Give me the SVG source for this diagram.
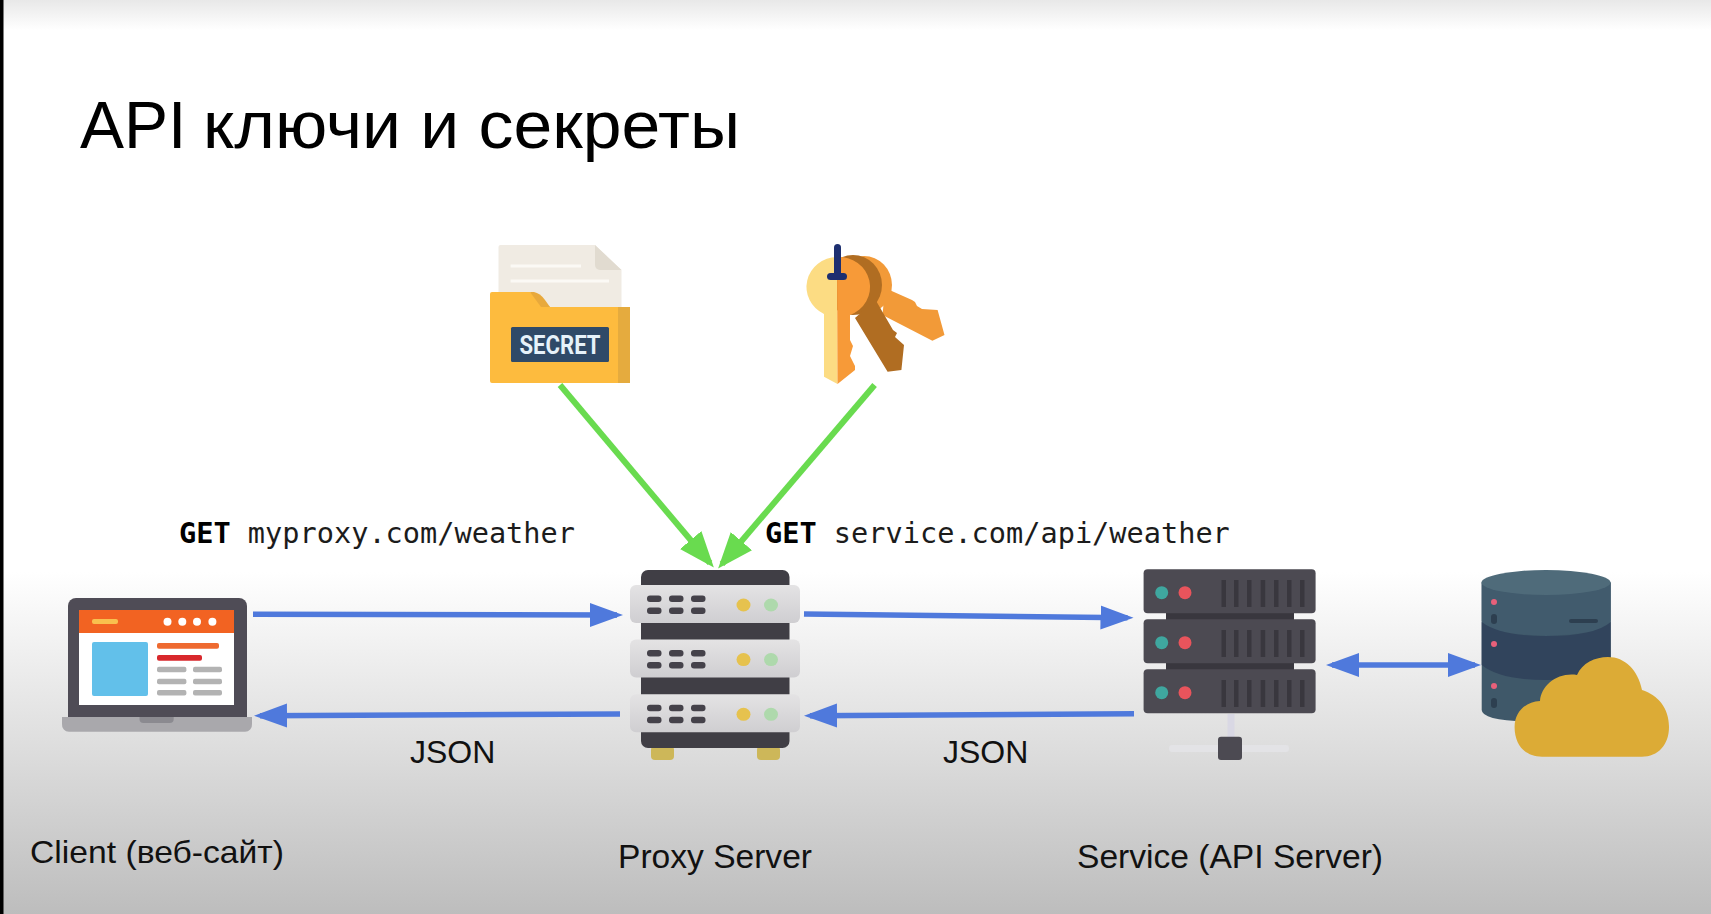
<svg xmlns="http://www.w3.org/2000/svg" xmlns:xlink="http://www.w3.org/1999/xlink" width="1711" height="914" viewBox="0 0 1711 914">
<style>
.sans{font-family:"Liberation Sans",Arial,sans-serif;fill:#111}
.mono{font-family:"DejaVu Sans Mono","Liberation Mono",monospace;font-size:28.6px;fill:#1c1c1c}
.mono .b{font-weight:700;fill:#000}
.lbl{font-size:32px}
.blue{stroke:#4f79dc;stroke-width:5.5;fill:none}
.green{stroke:#69db4f;stroke-width:6;fill:none}
</style>
<defs>
<linearGradient id="bgTop" x1="0" y1="0" x2="0" y2="1"><stop offset="0" stop-color="#e8e8e8"/><stop offset="1" stop-color="#fff"/></linearGradient>
<linearGradient id="bgBottom" x1="0" y1="0" x2="0" y2="1"><stop offset="0" stop-color="#fff"/><stop offset="1" stop-color="#bdbdbd"/></linearGradient>
<linearGradient id="unitFill" x1="0" y1="0" x2="0" y2="1"><stop offset="0" stop-color="#e4e3e4"/><stop offset="1" stop-color="#cfced1"/></linearGradient>
<marker id="headBlue" markerUnits="userSpaceOnUse" markerWidth="34" markerHeight="26" refX="27" refY="13" orient="auto"><path d="M0,1L33,13L0,25z" fill="#4f79dc"/></marker>
<marker id="headBlueStart" markerUnits="userSpaceOnUse" markerWidth="34" markerHeight="26" refX="6" refY="13" orient="auto"><path d="M33,1L0,13L33,25z" fill="#4f79dc"/></marker>
<marker id="headGreen" markerUnits="userSpaceOnUse" markerWidth="37" markerHeight="30" refX="30" refY="15" orient="auto"><path d="M0,1L36,15L0,29z" fill="#69db4f"/></marker>
<g id="proxyUnit">
<rect x="630" y="585" width="170" height="38" rx="6" fill="url(#unitFill)"/>
<g fill="#45424a"><rect x="647" y="595.500" width="14.500" height="6.500" rx="3"/><rect x="669" y="595.500" width="14.500" height="6.500" rx="3"/><rect x="691" y="595.500" width="14.500" height="6.500" rx="3"/><rect x="647" y="607.500" width="14.500" height="6.500" rx="3"/><rect x="669" y="607.500" width="14.500" height="6.500" rx="3"/><rect x="691" y="607.500" width="14.500" height="6.500" rx="3"/></g>
<ellipse cx="743.500" cy="605" rx="7" ry="6.500" fill="#e6c24e"/>
<ellipse cx="771" cy="605" rx="7" ry="6.500" fill="#aed9ac"/>
</g>
<g id="serviceUnit">
<rect x="1143.600" y="569.300" width="172" height="44" rx="4" fill="#4c4a52"/>
<ellipse cx="1161.700" cy="592.700" rx="6.500" ry="6.500" fill="#3fa79f"/>
<ellipse cx="1185" cy="592.700" rx="6.500" ry="6.500" fill="#e8545c"/>
<g fill="#39373e"><rect x="1221.500" y="580" width="4.500" height="27"/><rect x="1234" y="580" width="4.500" height="27"/><rect x="1247" y="580" width="4.500" height="27"/><rect x="1260.700" y="580" width="4.500" height="27"/><rect x="1274" y="580" width="4.500" height="27"/><rect x="1287" y="580" width="4.500" height="27"/><rect x="1300" y="580" width="4.500" height="27"/></g>
</g>
</defs>

<rect width="1711" height="914" fill="#fff"/>
<rect width="1711" height="30" fill="url(#bgTop)"/>
<rect y="572" width="1711" height="342" fill="url(#bgBottom)"/>
<rect width="3.500" height="914" fill="#000"/>

<text id="title" class="sans" style="fill:#000" x="80" y="148" font-size="66">API <tspan x="203" textLength="537" lengthAdjust="spacingAndGlyphs">ключи и секреты</tspan></text>

<g id="secret-folder">
<path d="M498.500,247a2,2 0 0 1 2,-2H595L621.500,270V320H498.500z" fill="#f0ebe3"/>
<path d="M595,245L621.500,270H600a5,5 0 0 1 -5,-5z" fill="#e1dbd0"/>
<path d="M510.600,264.500H581V267.500H510.600zM510.600,279.500H609V282.500H510.600z" fill="#fbf9f5"/>
<path d="M490,294a2,2 0 0 1 2,-2H530L550,307H630V383H492a2,2 0 0 1 -2,-2z" fill="#fdbb3e"/>
<path d="M530,292H534Q540,293 545,300L550,307H541z" fill="#e8a93c"/>
<rect x="618" y="307" width="12" height="76" fill="#e5ab3e"/>
<rect x="511" y="327" width="98" height="35" rx="1.500" fill="#2f4a68"/>
<text x="560" y="354" text-anchor="middle" font-family="Roboto,'Liberation Sans',sans-serif" font-weight="700" font-size="25" textLength="81" lengthAdjust="spacingAndGlyphs" fill="#e6f2fa">SECRET</text>
</g>

<g id="keys">
<path d="M885,288L912,300L915,302L917,306L922,309L937.600,310L944.500,335L932.400,340.700L882.500,315z" fill="#f29a38"/>
<ellipse cx="864" cy="285" rx="28" ry="29" fill="#f29a38"/>
<ellipse cx="853" cy="285" rx="29" ry="30" fill="#b06d22"/>
<path d="M855,318L875.600,300L893,330L897,333L895,337L904,345L901.400,370L887.600,371.700z" fill="#b06d22"/>
<path d="M837,257a31,30 0 0 0 -13,57V376.700L837.500,384z" fill="#fcdc83"/>
<path d="M837,257a31,30 0 0 1 13,58V340L853,346L850,356L855,366L855,370L837.500,384z" fill="#f79a38"/>
<rect x="834" y="244" width="7" height="34" rx="3.500" fill="#1d2f70"/>
<rect x="827" y="273" width="20" height="7" rx="3.500" fill="#1d2f70"/>
</g>

<g id="client-laptop">
<path d="M68,606a8,8 0 0 1 8,-8H239a8,8 0 0 1 8,8V717H68z" fill="#4f4c56"/>
<rect x="79" y="610" width="155" height="95" fill="#fff"/>
<rect x="79" y="610" width="155" height="23" fill="#f26322"/>
<rect x="92" y="619" width="26" height="5" rx="2" fill="#f9c04e"/>
<g fill="#fff"><circle cx="167.500" cy="621.700" r="4"/><circle cx="182.300" cy="621.700" r="4"/><circle cx="197" cy="621.700" r="4"/><circle cx="212.400" cy="621.700" r="4"/></g>
<rect x="92" y="642" width="56" height="54" rx="2" fill="#62c0ea"/>
<rect x="157" y="643" width="62" height="5.700" rx="2" fill="#ee6a30"/>
<rect x="157" y="655" width="45" height="5.700" rx="2" fill="#d8282c"/>
<g fill="#b3b3b3"><rect x="157" y="666.700" width="29.400" height="5.500" rx="2"/><rect x="193" y="666.700" width="29" height="5.500" rx="2"/><rect x="157" y="678.700" width="29.400" height="5.500" rx="2"/><rect x="193" y="678.700" width="29" height="5.500" rx="2"/><rect x="157" y="690" width="29.400" height="5.500" rx="2"/><rect x="193" y="690" width="29" height="5.500" rx="2"/></g>
<path d="M62,717H252V724a7,7 0 0 1 -7,7.700H69a7,7 0 0 1 -7,-7.700z" fill="#a9a8ac"/>
<path d="M139.500,717H173.700V719a4,4 0 0 1 -4,4H143.500a4,4 0 0 1 -4,-4z" fill="#8b8a90"/>
</g>

<g id="proxy-server">
<rect x="651" y="746" width="23" height="14" rx="4" fill="#cdb759"/>
<rect x="757" y="746" width="23" height="14" rx="4" fill="#cdb759"/>
<rect x="641" y="570" width="148.500" height="178" rx="7" fill="#403e45"/>
<use href="#proxyUnit" xlink:href="#proxyUnit"/>
<use href="#proxyUnit" xlink:href="#proxyUnit" y="54.600"/>
<use href="#proxyUnit" xlink:href="#proxyUnit" y="109.300"/>
</g>

<g id="service-server">
<rect x="1227.500" y="714" width="7" height="30" fill="#d9d8e4"/>
<rect x="1169" y="745" width="120" height="7" rx="3" fill="#e3e3e6"/>
<rect x="1218" y="736.700" width="24" height="23.300" rx="3" fill="#4c4a52"/>
<rect x="1166" y="612" width="128" height="9" fill="#39373e"/>
<rect x="1166" y="662" width="128" height="9" fill="#39373e"/>
<use href="#serviceUnit" xlink:href="#serviceUnit"/>
<use href="#serviceUnit" xlink:href="#serviceUnit" y="50"/>
<use href="#serviceUnit" xlink:href="#serviceUnit" y="100"/>
</g>

<g id="database-cloud">
<path d="M1481.700,582.500V710Q1481.700,722 1546,722Q1610.700,722 1610.700,710V582.500z" fill="#3f5869"/>
<path d="M1481.700,582.500V621Q1481.700,633 1546,636Q1610.700,633 1610.700,621V582.500z" fill="#415b6d"/>
<path d="M1481.700,622Q1500,636 1546,636Q1595,636 1610.700,622V665Q1595,680 1546,680Q1500,680 1481.700,665z" fill="#31445c"/>
<ellipse cx="1546" cy="582.500" rx="64.500" ry="12.500" fill="#4f6b7a"/>
<circle cx="1494" cy="602" r="3" fill="#e8607a"/><circle cx="1494" cy="644" r="3" fill="#e8607a"/><circle cx="1494" cy="686" r="3" fill="#e8607a"/>
<rect x="1491" y="614" width="6" height="10" rx="3" fill="#2d3f50"/><rect x="1491" y="698" width="6" height="10" rx="3" fill="#2d3f50"/>
<rect x="1569" y="619" width="29" height="4" rx="2" fill="#2d3f50"/>
<path d="M1542,756.700C1525,756.700 1514.600,745 1514.600,727C1514.600,712 1525,702 1540,701C1541,685 1558,672 1577,675C1582,663 1595,657 1608,657C1625,657 1638,670 1642,690C1658,695 1669,708 1669,727C1669,745 1658,756.700 1642,756.700z" fill="#dcab36"/>
</g>

<g id="connectors">
<line class="green" x1="560" y1="385" x2="710" y2="563" marker-end="url(#headGreen)"/>
<line class="green" x1="874.600" y1="385" x2="722" y2="564" marker-end="url(#headGreen)"/>
<line class="blue" x1="253" y1="614.300" x2="617" y2="615" marker-end="url(#headBlue)"/>
<line class="blue" x1="620" y1="714" x2="260" y2="715.700" marker-end="url(#headBlue)"/>
<line class="blue" x1="804" y1="614" x2="1127.500" y2="617.700" marker-end="url(#headBlue)"/>
<line class="blue" x1="1134" y1="713.700" x2="810" y2="715.700" marker-end="url(#headBlue)"/>
<line class="blue" x1="1332" y1="665" x2="1475" y2="665" marker-start="url(#headBlueStart)" marker-end="url(#headBlue)"/>
</g>

<g id="labels">
<text class="mono" x="179" y="543"><tspan class="b">GET</tspan> myproxy.com/weather</text>
<text class="mono" x="765" y="543"><tspan class="b">GET</tspan> service.com/api/weather</text>
<text class="sans lbl" x="410" y="763">JSON</text>
<text class="sans lbl" x="943" y="763">JSON</text>
<text class="sans lbl" x="30" y="863" textLength="254" lengthAdjust="spacingAndGlyphs">Client (веб-сайт)</text>
<text class="sans" font-size="33" x="618" y="868" textLength="194" lengthAdjust="spacingAndGlyphs">Proxy Server</text>
<text class="sans" font-size="33" x="1077" y="868" textLength="306" lengthAdjust="spacingAndGlyphs">Service (API Server)</text>
</g>
</svg>
